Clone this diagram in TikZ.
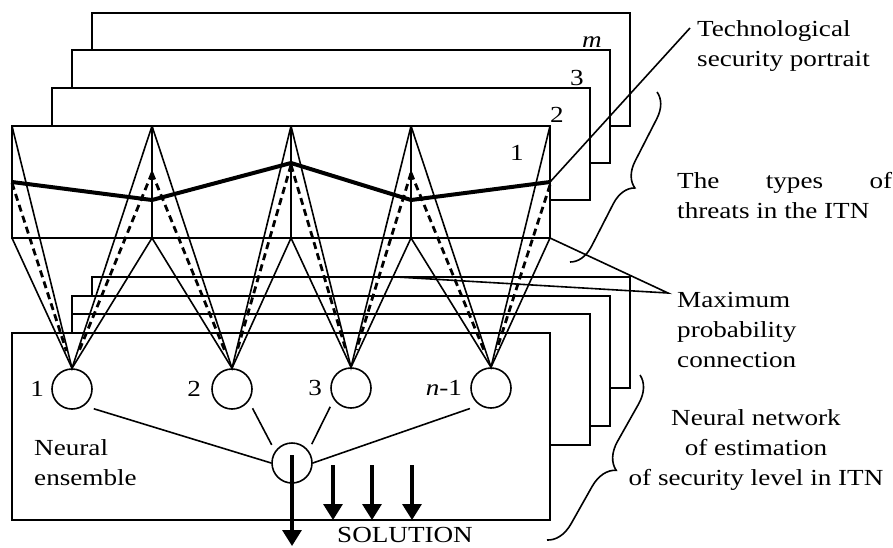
\documentclass[tikz,border=0pt]{standalone}
\usepackage{fontspec}
\setmainfont{Liberation Serif}[FakeStretch=1.18]
\usepackage{tikz}
\usetikzlibrary{arrows.meta,positioning,decorations.pathreplacing,calc}

\begin{document}
\begin{tikzpicture}[x=1pt,y=-1pt,font=\fontsize{23}{30}\selectfont,
  sheet/.style={draw,fill=white,line width=1.7pt},
  wire/.style={line width=1.6pt},
  maxlink/.style={line width=2.8pt,dash pattern=on 7pt off 4.5pt,shorten >=18pt},
  portrait/.style={line width=4pt},
  neuron/.style={circle,draw,line width=1.6pt,minimum size=40pt,inner sep=0pt},
  outarrow/.style={line width=3.2pt,-{Triangle[width=19pt,length=16pt]}},
  curly/.style={decorate,decoration={brace,amplitude=#1},line width=1.6pt},
  txt/.style={inner sep=0pt,align=left},
  num/.style={inner sep=0pt}]
\useasboundingbox (0,0) rectangle (893,547);
% sheets: threat types (top) and network copies (bottom)
\foreach \xa/\ya/\xb/\yb in {92/13/630/126,72/50/610/163,52/88/590/200,12/126/550/238,
  92/277/630/388,72/296/610/426,72/314/590/445,12/333/550/520}
  \draw[sheet] (\xa,\ya) rectangle (\xb,\yb);
\node[num] (sm) at (592,42) {\textit{m}};
\node[num] (s3) at (577,78) {3};
\node[num] (s2) at (557,115) {2};
\node[num] (s1) at (517,153) {1};
\foreach \i/\x/\d/\p in {0/12/183/182,1/152/173/200,2/291/165/163,3/411/173/200,4/550/185/182} {
  \coordinate (t\i) at (\x,126);
  \coordinate (b\i) at (\x,238);
  \coordinate (d\i) at (\x,\d);
  \coordinate (p\i) at (\x,\p);
}
\foreach \i in {1,2,3}
  \draw[wire] (t\i) -- (b\i);
\node[neuron] (c1) at (72,389) {};
\node[neuron] (c2) at (232,389) {};
\node[neuron] (c3) at (351,388) {};
\node[neuron] (cn) at (491,388) {};
\node[neuron] (out) at (292,463) {};
\node[num,left=7pt of c1] (n1) {1};
\node[num,left=10pt of c2] (n2) {2};
\node[num,left=8pt of c3] (n3) {3};
\node[num,left=8pt of cn] (nn) {\textit{n}-1};
\foreach \c/\i/\j in {c1/0/1,c2/1/2,c3/2/3,cn/3/4} {
  \draw[wire] (t\i) -- (\c.north) -- (t\j);
  \draw[wire] (b\i) -- (\c.north) -- (b\j);
  \draw[maxlink] (d\i) -- (\c.north);
  \draw[maxlink] (d\j) -- (\c.north);
}
\draw[portrait] (p0) -- (p1) -- (p2) -- (p3) -- (p4);
\draw[wire,shorten <=10pt] (c1.-54) -- (out.west);
\draw[wire,shorten <=8pt,shorten >=7pt] (c2.-36) -- (out.145);
\draw[wire,shorten <=8pt,shorten >=7pt] (c3.-146) -- (out.37);
\draw[wire,shorten <=10pt] (cn.-124) -- (out.east);
\node[txt,anchor=west] (ens) at (34,463) {Neural\\ensemble};
% outputs
\coordinate (sol) at (292,546);
\draw[outarrow] ($(out.center)+(0,-8)$) -- (sol);
\foreach \x in {333,372,412} {
  \coordinate (a\x) at (\x,465);
  \coordinate (e\x) at (\x,520);
  \draw[outarrow] (a\x) -- (e\x);
}
\node[num,anchor=base] (soltxt) at (405,542) {SOLUTION};
% callouts
\coordinate (tsp) at (690,28);
\draw[wire] (p4) -- (tsp);
\node[txt,anchor=west] (tsptxt) at (697,46) {Technological\\security portrait};
\coordinate (mpc) at (668,293);
\coordinate (mlow) at (397,277);
\draw[wire] (b4) -- (mpc) -- (mlow);
\node[txt,anchor=west] (mpctxt) at (677,330) {Maximum\\probability\\connection};
\coordinate (br1a) at (657,92);
\coordinate (br1b) at (570,262);
\draw[curly=24pt] (br1a) -- (br1b);
\node[txt,anchor=west] (types) at (677,196) {\makebox[215pt][s]{The types of}\\threats in the ITN};
\coordinate (br2a) at (640,375);
\coordinate (br2b) at (547,540);
\draw[curly=26pt] (br2a) -- (br2b);
\node[txt,align=center] (nnet) at (756,450) {Neural network\\of estimation\\of security level in ITN};
\end{tikzpicture}
\end{document}
